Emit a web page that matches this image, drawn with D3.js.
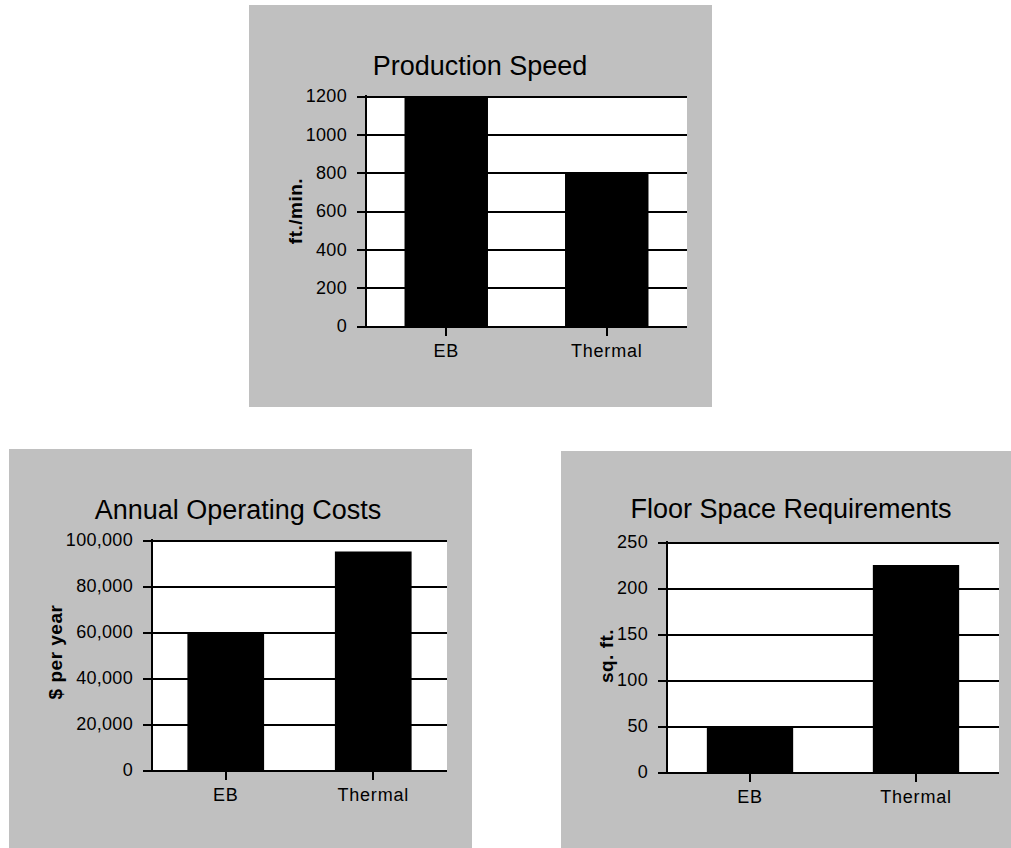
<!DOCTYPE html>
<html>
<head>
<meta charset="utf-8">
<script src="https://cdn.jsdelivr.net/npm/d3@7"></script>
<style>
body { margin:0; background:#fff; }
svg { display:block; }
text { font-family: "Liberation Sans", Arial, sans-serif; fill:#000; }
.grid line { stroke:#000; stroke-width:2; shape-rendering:crispEdges; }
.grid .domain { display:none; }
.x.axis line { stroke:#000; stroke-width:2; shape-rendering:crispEdges; }
.x.axis .domain { display:none; }
</style>
</head>
<body>
<svg id="chart" width="1011" height="848"></svg>
<script>
// ---- data ----
var categories = ["EB", "Thermal"]

var speedValues = [1200, 800]          // ft./min.
var speedTicks = [0, 200, 400, 600, 800, 1000, 1200]

var costValues = [60000, 95000]        // $ per year
var costTicks = [0, 20000, 40000, 60000, 80000, 100000]

var spaceValues = [50, 225]            // sq. ft.
var spaceTicks = [0, 50, 100, 150, 200, 250]

// ---- layout of the three panels ----
var panels = [
  { title:"Production Speed", yLabel:"ft./min.", values:speedValues, ticks:speedTicks, fmt:d3.format("d"),
    box:[249, 5, 463, 402], plot:[366, 96, 687, 326], titleX:480, titleY:75, labelX:295, labelY:211 },
  { title:"Annual Operating Costs", yLabel:"$ per year", values:costValues, ticks:costTicks, fmt:d3.format(","),
    box:[9, 449, 463, 399], plot:[152, 540, 447, 770], titleX:238, titleY:519, labelX:55, labelY:652 },
  { title:"Floor Space Requirements", yLabel:"sq. ft.", values:spaceValues, ticks:spaceTicks, fmt:d3.format("d"),
    box:[561, 451, 450, 397], plot:[667, 542, 999, 772], titleX:791, titleY:518, labelX:606, labelY:656 }
]

var svg = d3.select("#chart")

function buildBarChart(p)
{
  var g = svg.append("g")
  var left = p.plot[0], top = p.plot[1], right = p.plot[2], bottom = p.plot[3]

  // gray panel
  g.append("rect")
    .attr("x", p.box[0]).attr("y", p.box[1])
    .attr("width", p.box[2]).attr("height", p.box[3])
    .attr("fill", "#c0c0c0")

  // white plot area
  g.append("rect")
    .attr("x", left).attr("y", top)
    .attr("width", right - left).attr("height", bottom - top)
    .attr("fill", "#fff")

  var xScale = d3.scaleBand()
    .domain(categories)
    .range([left, right])
    .paddingInner(0.48)
    .paddingOuter(0.24)

  var yScale = d3.scaleLinear()
    .domain([0, d3.max(p.ticks)])
    .range([bottom, top])

  // gridlines + tick labels, drawn from the right edge leftwards
  g.append("g")
    .attr("class", "grid")
    .attr("transform", "translate(" + right + ",0)")
    .call(d3.axisLeft(yScale)
      .tickValues(p.ticks)
      .tickFormat(p.fmt)
      .tickSize(right - left + 9)
      .tickPadding(10))
    .selectAll("text")
      .attr("font-size", "18px")
      .attr("letter-spacing", "0.3px")
      .attr("font-family", "Liberation Sans, Arial, sans-serif")

  // bars
  g.selectAll(".bar")
    .data(p.values)
    .enter().append("rect")
      .attr("class", "bar")
      .attr("x", function(d, i) { return xScale(categories[i]) })
      .attr("y", function(d) { return yScale(d) })
      .attr("width", xScale.bandwidth())
      .attr("height", function(d) { return bottom - yScale(d) })
      .attr("fill", "#000")

  // left axis line
  g.append("line")
    .attr("x1", left).attr("x2", left)
    .attr("y1", top - 1).attr("y2", bottom + 1)
    .attr("stroke", "#000").attr("stroke-width", 2)
    .style("shape-rendering", "crispEdges")

  // category axis
  g.append("g")
    .attr("class", "x axis")
    .attr("transform", "translate(0," + bottom + ")")
    .call(d3.axisBottom(xScale).tickSize(10).tickPadding(8))
    .selectAll("text")
      .attr("font-size", "18px")
      .attr("letter-spacing", "0.8px")
      .attr("font-family", "Liberation Sans, Arial, sans-serif")

  // title
  g.append("text")
    .attr("x", p.titleX).attr("y", p.titleY)
    .attr("text-anchor", "middle")
    .attr("font-size", "27px")
    .text(p.title)

  // y axis label
  g.append("text")
    .attr("transform", "translate(" + p.labelX + "," + p.labelY + ") rotate(-90)")
    .attr("text-anchor", "middle")
    .attr("dy", "0.35em")
    .attr("font-size", "19px")
    .attr("font-weight", "bold")
    .attr("letter-spacing", "0.5px")
    .text(p.yLabel)
}

panels.forEach(buildBarChart)
</script>
</body>
</html>
